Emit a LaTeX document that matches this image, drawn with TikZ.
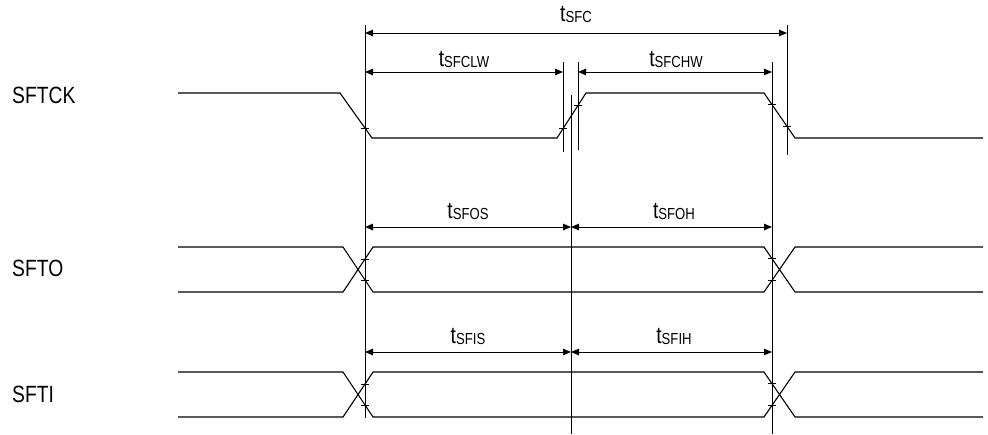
\documentclass[tikz,border=0pt]{standalone}
\usepackage{fontspec}
\setmainfont{Liberation Sans}[FakeStretch=0.82]
\usetikzlibrary{arrows.meta}
\newcommand\mysub[1]{{\fontsize{16}{16}\selectfont\raisebox{-1pt}{#1}}}
\newcommand\tk[1]{\draw[tickl] ([xshift=-4pt]#1) -- ([xshift=4pt]#1);}
\begin{document}
\begin{tikzpicture}[x=1pt,y=-1pt,
  wave/.style={line width=1.1pt, line join=miter},
  refl/.style={line width=1pt},
  tickl/.style={line width=1pt},
  dim/.style={line width=1pt, {Triangle[length=8pt,width=6.5pt]}-{Triangle[length=8pt,width=6.5pt]}},
  sig/.style={font=\fontsize{23.5}{24}\selectfont, inner sep=0pt, anchor=base west},
  tlab/.style={font=\fontsize{23.5}{24}\selectfont, inner sep=0pt, anchor=base}]
\useasboundingbox (0,0) rectangle (988,434);

% reference lines
\coordinate (r0t) at (365,25);  \coordinate (r0b) at (365,418);
\coordinate (r1t) at (787,25);  \coordinate (r1b) at (787,155);
\coordinate (r2t) at (563,62);  \coordinate (r2b) at (563,152);
\coordinate (r3t) at (578,62);  \coordinate (r3b) at (578,150);
\coordinate (r4t) at (571,95);  \coordinate (r4b) at (571,434);
\coordinate (r5t) at (772,62);  \coordinate (r5b) at (772,434);
\foreach \r in {0,...,5} {\draw[refl] (r\r t) -- (r\r b);}

% dimension arrow ends
\coordinate (a1l) at (365,33);  \coordinate (a1r) at (787,33);
\coordinate (a2l) at (365,72);  \coordinate (a2r) at (563,72);
\coordinate (a3l) at (578,72);  \coordinate (a3r) at (772,72);
\coordinate (a4l) at (365,227); \coordinate (a4m) at (571,227); \coordinate (a4r) at (772,227);
\coordinate (a5l) at (365,352); \coordinate (a5m) at (571,352); \coordinate (a5r) at (772,352);
\draw[dim] (a1l) -- (a1r);
\draw[dim] (a2l) -- (a2r);
\draw[dim] (a3l) -- (a3r);
\draw[dim] (a4l) -- (a4m);
\draw[dim] (a4m) -- (a4r);
\draw[dim] (a5l) -- (a5m);
\draw[dim] (a5m) -- (a5r);

% timing labels
\node[tlab] (tsfc)   at (576,21)  {t\mysub{SFC}};
\node[tlab] (tsfclw) at (464,66)  {t\mysub{SFCLW}};
\node[tlab] (tsfchw) at (676,66)  {t\mysub{SFCHW}};
\node[tlab] (tsfos)  at (468,218) {t\mysub{SFOS}};
\node[tlab] (tsfoh)  at (674,218) {t\mysub{SFOH}};
\node[tlab] (tsfis)  at (468,343) {t\mysub{SFIS}};
\node[tlab] (tsfih)  at (674,343) {t\mysub{SFIH}};

% signal names
\node[sig] (nck) at (12,103) {SFTCK};
\node[sig] (no)  at (12,276) {SFTO};
\node[sig] (ni)  at (12,402) {SFTI};

% SFTCK waveform
\coordinate (c0) at (178,93);  \coordinate (c1) at (340,93);
\coordinate (c2) at (372,138); \coordinate (c3) at (557,138);
\coordinate (c4) at (586,93);  \coordinate (c5) at (764,93);
\coordinate (c6) at (795,138); \coordinate (c7) at (983,138);
\draw[wave] (c0) -- (c1) -- (c2) -- (c3) -- (c4) -- (c5) -- (c6) -- (c7);
\coordinate (ck1) at (intersection cs: first line={(c1)--(c2)}, second line={(r0t)--(r0b)});
\coordinate (ck2) at (intersection cs: first line={(c3)--(c4)}, second line={(r2t)--(r2b)});
\coordinate (ck3) at (intersection cs: first line={(c3)--(c4)}, second line={(r3t)--(r3b)});
\coordinate (ck4) at (intersection cs: first line={(c5)--(c6)}, second line={(r5t)--(r5b)});
\coordinate (ck5) at (intersection cs: first line={(c5)--(c6)}, second line={(r1t)--(r1b)});
\tk{ck1}\tk{ck2}\tk{ck3}\tk{ck4}\tk{ck5}

% SFTO and SFTI waveforms
\foreach \p/\h/\l in {o/247/292, i/372/417} {
  \coordinate (\p A0) at (178,\h); \coordinate (\p A1) at (343,\h);
  \coordinate (\p A2) at (373,\l); \coordinate (\p A3) at (764,\l);
  \coordinate (\p A4) at (795,\h); \coordinate (\p A5) at (983,\h);
  \coordinate (\p B0) at (178,\l); \coordinate (\p B1) at (343,\l);
  \coordinate (\p B2) at (373,\h); \coordinate (\p B3) at (764,\h);
  \coordinate (\p B4) at (795,\l); \coordinate (\p B5) at (983,\l);
  \draw[wave] (\p A0) -- (\p A1) -- (\p A2) -- (\p A3) -- (\p A4) -- (\p A5);
  \draw[wave] (\p B0) -- (\p B1) -- (\p B2) -- (\p B3) -- (\p B4) -- (\p B5);
  \coordinate (\p k1) at (intersection cs: first line={(\p A1)--(\p A2)}, second line={(r0t)--(r0b)});
  \coordinate (\p k2) at (intersection cs: first line={(\p B1)--(\p B2)}, second line={(r0t)--(r0b)});
  \coordinate (\p k3) at (intersection cs: first line={(\p A3)--(\p A4)}, second line={(r5t)--(r5b)});
  \coordinate (\p k4) at (intersection cs: first line={(\p B3)--(\p B4)}, second line={(r5t)--(r5b)});
  \tk{\p k1}\tk{\p k2}\tk{\p k3}\tk{\p k4}
}
\end{tikzpicture}
\end{document}
